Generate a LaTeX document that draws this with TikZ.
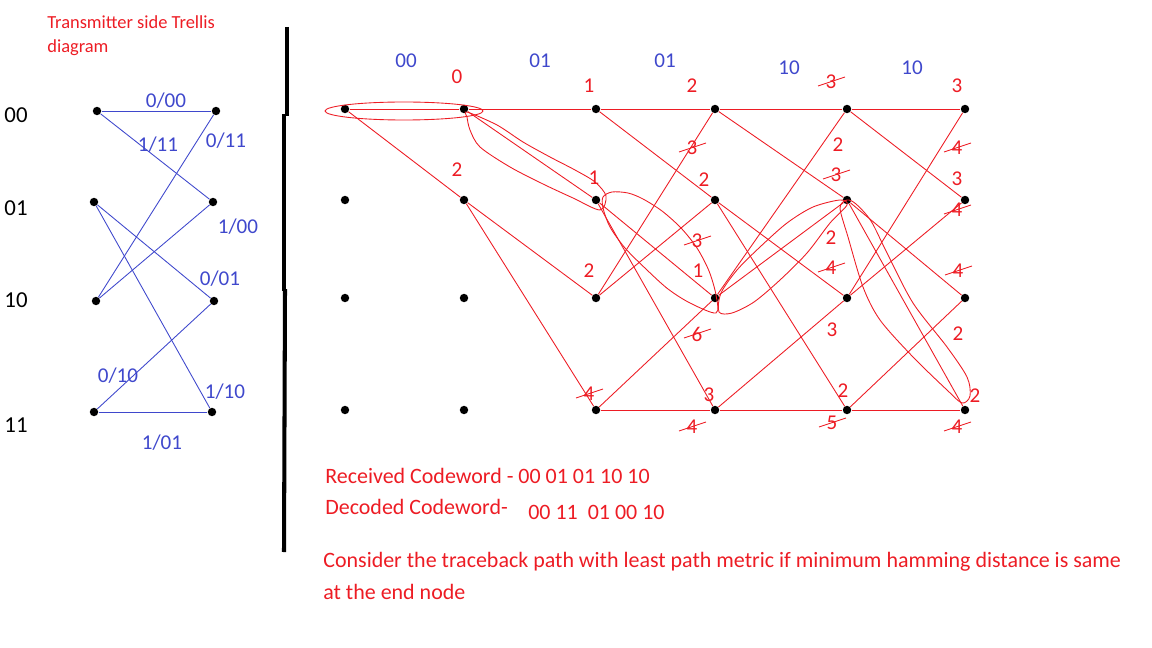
\documentclass[tikz,border=0pt]{standalone}
\usepackage{fontspec}
\setmainfont{Carlito}
\usetikzlibrary{positioning}
\definecolor{pred}{RGB}{237,28,36}
\definecolor{pblue}{RGB}{63,72,204}
\tikzset{
  dot/.style={circle,fill=black,inner sep=0pt,minimum size=4.8pt},
  tedge/.style={pblue,line width=0.5pt},
  redge/.style={pred,line width=0.5pt},
  trace/.style={pred,line width=0.5pt},
  lbl/.style={pblue,font=\fontsize{12}{14}\selectfont,inner sep=0pt},
  metric/.style={pred,font=\fontsize{12}{14}\selectfont,inner sep=0pt},
  statelbl/.style={font=\fontsize{13}{15}\selectfont,inner sep=0pt},
  note/.style={pred,font=\fontsize{12.5}{15}\selectfont,anchor=west,inner sep=0pt},
}
\newcommand{\struck}[3]{%
  \node[metric] (#1) at (#2) {#3};
  \draw[redge] ([shift={(-13,4)}]#1.center) -- ([shift={(14,-5)}]#1.center);}
\begin{document}
\begin{tikzpicture}[x=0.02cm,y=-0.02cm]
	\useasboundingbox (0,0) rectangle (1152,648);
	% Transmitter side
	\node[pred,font=\fontsize{10.5}{12}\selectfont,anchor=west,inner sep=0pt] (title1) at (47,22) {Transmitter side Trellis};
	\node[pred,font=\fontsize{10.5}{12}\selectfont,anchor=west,inner sep=0pt] (title2) at (47,48) {diagram};
	\foreach \r/\s/\y in {0/00/115,1/01/208,2/10/300,3/11/425}
		\node[statelbl] (st\r) at (16,\y) {\s};
	\foreach \r/\xa/\ya/\xb/\yb in {0/97/111/216/111,1/94/202/213/202,2/96/301/214/301,3/94/412/212/412}{
		\node[dot] (tl\r) at (\xa,\ya) {};
		\node[dot] (tr\r) at (\xb,\yb) {};
	}
	\foreach \a/\b in {0/0,0/1,1/2,1/3,2/0,2/1,3/2,3/3}
		\draw[tedge] (tl\a) -- (tr\b);
	\foreach \x/\y/\t [count=\i] in {166/101/0\slash00,158/145/1\slash11,226/141/0\slash11,238/227/1\slash00,
		220/279/0\slash01,118/376/0\slash10,225/392/1\slash10,162/443/1\slash01}
		\node[lbl] (tlbl\i) at (\x,\y) {\t};
	% Divider
	\draw[line width=2.3pt] (287,27) -- (287,116);
	\draw[line width=2.3pt] (284,114) -- (284,291);
	\draw[line width=2.3pt] (285,289) -- (284,552);
	% Receiver trellis
	\foreach \c/\x in {0/345,1/464,2/596,3/715,4/847,5/965}
		\foreach \r/\y in {0/109,1/200,2/298,3/410}
			\node[dot] (n\c\r) at (\x,\y) {};
	\foreach \a/\b in {00/10,00/11,10/20,10/21,11/22,11/23,
		20/30,20/31,21/32,21/33,22/30,22/31,23/32,23/33,
		30/40,30/41,31/42,31/43,32/40,32/41,33/42,33/43,
		40/50,40/51,41/52,41/53,42/50,42/51,43/52,43/53}
		\draw[redge] (n\a) -- (n\b);
	\foreach \x/\t [count=\i] in {406/00,540/01,665/01,789/10,912/10}
		\node[lbl] (rx\i) at (\x,{\i<4 ? 61 : 68}) {\t};
	% Path metrics
	\foreach \x/\y/\t [count=\i] in {457/77/0,457/170/2,589/86/1,594/178/1,589/271/2,
		692/86/2,704/180/2,698/271/1,709/395/3,838/145/2,831/238/2,832/330/3,843/391/2,
		957/86/3,957/179/3,958/334/2,975/396/2}
		\node[metric] (m\i) at (\x,\y) {\t};
	\foreach \x/\y/\t [count=\i] in {589/394/4,692/148/3,697/241/3,697/334/6,692/427/4,
		831/82/3,836/175/3,831/268/4,832/423/5,957/148/4,957/210/4,958/271/4,957/427/4}
		\struck{s\i}{\x,\y}{\t};
	% Traceback
	\draw[trace] (404,111) ellipse [x radius=79, y radius=9];
	\draw[trace] plot[smooth cycle] coordinates {(467,112) (497,125) (523,142) (550,157) (575,170) (595,182) (606,196)
		(600,210) (573,198) (543,184) (510,167) (480,147) (470,130) (467,117)};
	\draw[trace] plot[smooth cycle] coordinates {(603,197) (612,192) (628,193) (643,199) (662,211) (681,228) (697,248)
		(709,271) (716,295) (716,313) (690,303) (668,289) (647,270) (625,248) (610,227) (603,208)};
	\draw[trace] plot[smooth cycle] coordinates {(719,312) (732,313) (754,302) (780,280) (807,253) (830,223) (847,205)
		(840,200) (813,207) (787,223) (760,247) (737,270) (721,293)};
	\draw[trace] plot[smooth cycle] coordinates {(847,200) (856,204) (871,221) (887,253) (913,303) (947,347) (967,377)
		(970,396) (962,403) (947,390) (913,357) (880,320) (863,287) (848,237) (840,208)};
	% Notes
	\node[note] (recv) at (325,476) {Received Codeword - 00 01 01 10 10};
	\node[note] (dec) at (325,507) {Decoded Codeword-};
	\node[note] (decbits) at (528,512) {00 11\ \ 01 00 10};
	\node[note] (rule1) at (323,562) {Consider the traceback path with least path metric if minimum hamming distance is same};
	\node[note] (rule2) at (323,592) {at the end node};
\end{tikzpicture}
\end{document}
